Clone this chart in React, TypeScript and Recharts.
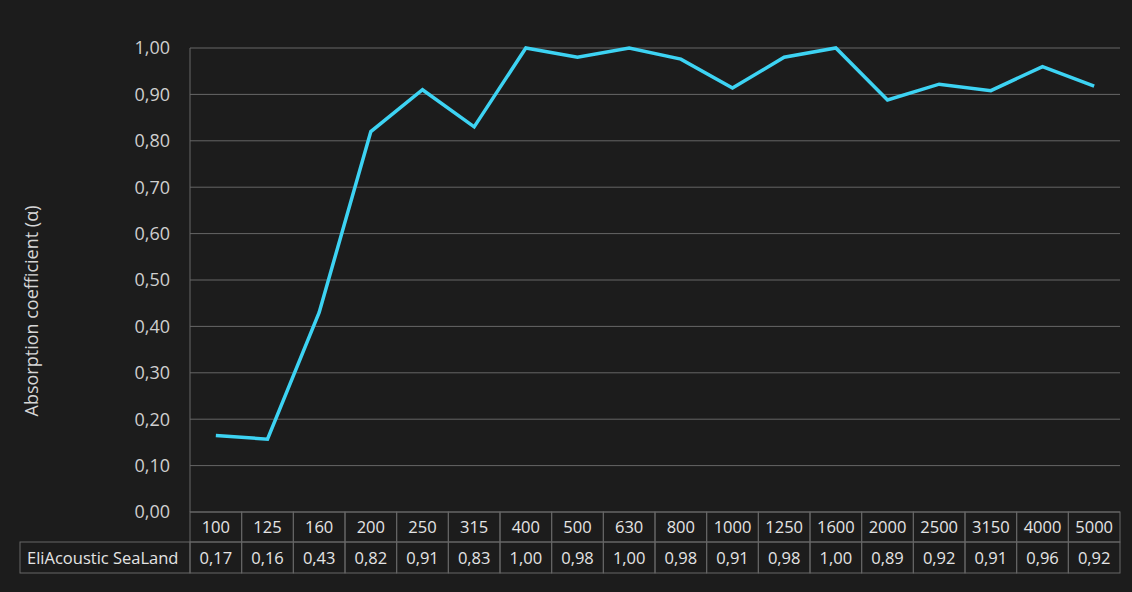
import { LineChart, Line, XAxis, YAxis, CartesianGrid, Customized } from "recharts";

const frequencies = ["100", "125", "160", "200", "250", "315", "400", "500", "630", "800", "1000", "1250", "1600", "2000", "2500", "3150", "4000", "5000"];
const absorption = [0.165, 0.157, 0.43, 0.82, 0.91, 0.83, 1.0, 0.98, 1.0, 0.976, 0.914, 0.98, 1.0, 0.888, 0.922, 0.908, 0.96, 0.918];
const tableValues = ["0,17", "0,16", "0,43", "0,82", "0,91", "0,83", "1,00", "0,98", "1,00", "0,98", "0,91", "0,98", "1,00", "0,89", "0,92", "0,91", "0,96", "0,92"];
const yTicks = [0, 0.1, 0.2, 0.3, 0.4, 0.5, 0.6, 0.7, 0.8, 0.9, 1.0];
const seriesName = "EliAcoustic SeaLand";

const data = frequencies.map((f, i) => ({ freq: f, value: absorption[i], cell: tableValues[i] }));

const BG = "#1c1c1c";
const GRID = "#666666";
const TEXT = "#e4e4e4";
const FONT = "'Open Sans', sans-serif";
const BAND = 930 / 18;
const ROW_LABEL_W = 170;

// both table rows are drawn per category tick
function TableCell(props: any) {
  const { x, y, payload, index } = props;
  const top = y - 8;
  const left = x - BAND / 2;
  return (
    <g fontFamily={FONT} fontSize={16.5} fill={TEXT}>
      <rect x={left} y={top} width={BAND} height={30} fill="none" stroke={GRID} />
      <text x={x} y={top + 21} textAnchor="middle" fill={TEXT}>
        {payload.value}
      </text>
      <rect x={left} y={top + 30} width={BAND} height={31} fill="none" stroke={GRID} />
      <text x={x} y={top + 52} textAnchor="middle" fill={TEXT}>
        {data[index]?.cell}
      </text>
      {index === 0 && (
        <g>
          <rect x={left - ROW_LABEL_W} y={top + 30} width={ROW_LABEL_W} height={31} fill="none" stroke={GRID} />
          <text x={left - ROW_LABEL_W + 7} y={top + 52} textAnchor="start" fill={TEXT}>
            {seriesName}
          </text>
        </g>
      )}
    </g>
  );
}

function AxisTitle() {
  return (
    <text
      x={38}
      y={311}
      transform="rotate(-90 38 311)"
      textAnchor="middle"
      fill="#d6d6d6"
      fontSize={18}
      fontFamily={FONT}
    >
      Absorption coefficient (α)
    </text>
  );
}

export default function App() {
  return (
    <div style={{ position: "absolute", left: 0, top: 0, width: 1132, height: 592, background: BG }}>
      <LineChart
        width={1132}
        height={592}
        data={data}
        margin={{ top: 48, right: 12, bottom: 19, left: 130 }}
      >
        <CartesianGrid vertical={false} horizontal stroke={GRID} strokeWidth={1} />
        <XAxis
          dataKey="freq"
          scale="band"
          interval={0}
          height={61}
          axisLine={false}
          tickLine={false}
          tickSize={0}
          tickMargin={8}
          tick={<TableCell />}
        />
        <YAxis
          width={60}
          domain={[0, 1]}
          ticks={yTicks}
          interval={0}
          tickFormatter={(v: number) => v.toFixed(2).replace(".", ",")}
          axisLine={{ stroke: GRID }}
          tickLine={false}
          tickSize={0}
          tickMargin={20}
          tick={{ fill: "#cfcfcf", fontSize: 18, fontFamily: FONT }}
        />
        <Line
          type="linear"
          dataKey="value"
          stroke="#3dd3f3"
          strokeWidth={3.5}
          dot={false}
          isAnimationActive={false}
        />
        <Customized component={AxisTitle} />
      </LineChart>
    </div>
  );
}
